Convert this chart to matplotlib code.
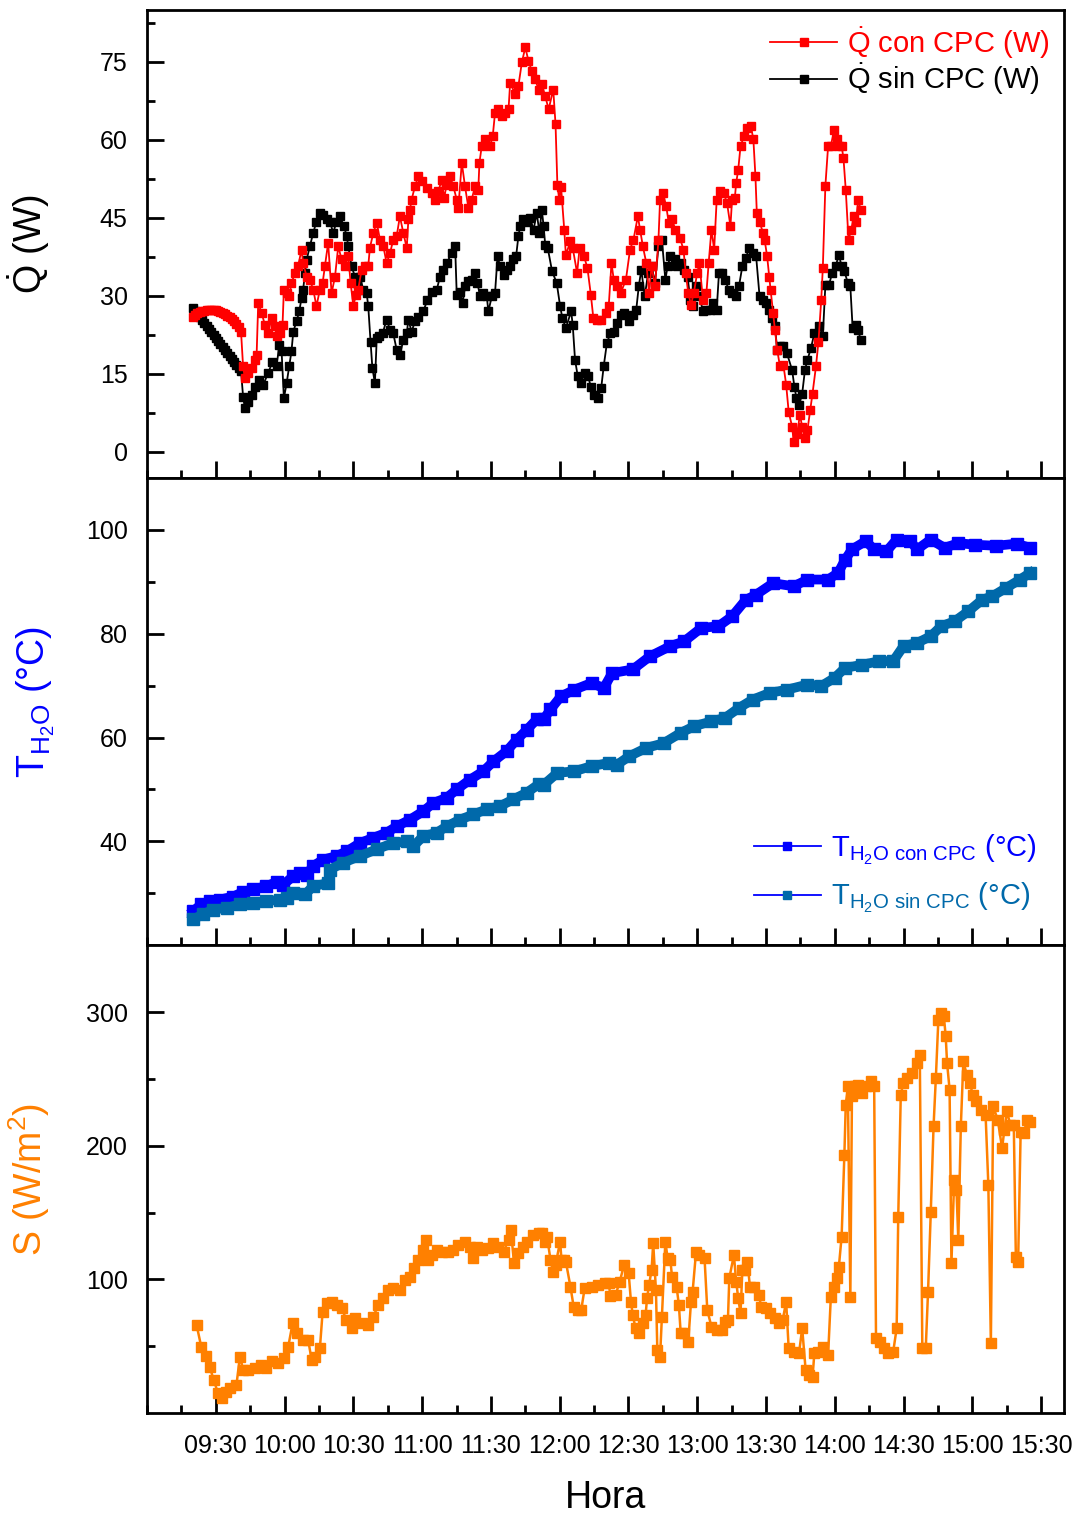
import numpy as np
import matplotlib.pyplot as plt
from matplotlib.lines import Line2D
from matplotlib.ticker import FixedLocator, MultipleLocator

plt.rcParams['font.family'] = ['Liberation Sans', 'DejaVu Sans']
plt.rcParams['mathtext.fontset'] = 'custom'
plt.rcParams['mathtext.rm'] = 'Liberation Sans'
plt.rcParams['mathtext.it'] = 'Liberation Sans:italic'
plt.rcParams['mathtext.bf'] = 'Liberation Sans:bold'

# tiempo en minutos despues de las 09:00
hora_pos = [30, 60, 90, 120, 150, 180, 210, 240, 270, 300, 330, 360, 390]
hora_lab = ['09:30', '10:00', '10:30', '11:00', '11:30', '12:00', '12:30',
            '13:00', '13:30', '14:00', '14:30', '15:00', '15:30']

# Q con CPC (W)
q_con = [(20, 26.0), (21, 26.4), (22, 26.7), (23, 26.9), (24, 27.0), (25, 27.1), (26, 27.2),
         (27, 27.3), (28, 27.3), (29, 27.3), (30, 27.2), (31, 27.0), (32, 26.9), (33, 26.7),
         (34, 26.5), (35, 26.2), (36, 25.9), (37, 25.5), (38, 25.1), (39, 24.6), (40, 24.0),
         (41, 23.1), (41.9, 16.4), (42.7, 14.1), (44.1, 15.1), (45.6, 16.1), (47.0, 17.7),
         (47.8, 18.6), (48.5, 28.6), (50.0, 26.7), (51.4, 24.4), (52.8, 22.8), (54.3, 25.7),
         (55.8, 24.1), (56.5, 22.2), (58.0, 22.8), (59.1, 24.4), (59.7, 31.2), (60.9, 30.5),
         (62.0, 29.9), (63.0, 32.4), (64.5, 34.4), (65.9, 35.7), (67.4, 38.9), (68.1, 36.3),
         (69.6, 33.7), (71.0, 33.1), (72.5, 31.2), (73.9, 28.0), (75.4, 31.2), (76.6, 32.5),
         (77.6, 35.7), (79.0, 40.2), (80.5, 30.5), (82.0, 33.7), (83.4, 39.5), (84.9, 37.0),
         (86.3, 35.7), (87.8, 37.6), (88.8, 32.5), (90.0, 28.0), (91.1, 30.2), (92.1, 31.2),
         (93.6, 35.0), (95.1, 35.7), (96.5, 35.7), (97.2, 39.2), (98.7, 42.1), (100.2, 44.1),
         (101.6, 40.8), (103.1, 39.5), (104.5, 36.3), (106.0, 38.2), (107.4, 40.8), (108.9, 41.5),
         (110.3, 45.3), (111.8, 42.1), (113.3, 39.2), (114.0, 44.7), (114.7, 46.6), (115.4, 48.5),
         (116.9, 51.1), (118.3, 53.0), (119.8, 52.0), (122.0, 50.8), (124.2, 49.8), (125.6, 48.5),
         (127.1, 50.1), (128.5, 52.3), (129.6, 48.8), (130.7, 51.4), (132.2, 53.0), (133.6, 51.1),
         (135.1, 48.5), (135.8, 46.9), (137.3, 55.6), (138.7, 51.1), (140.2, 46.9), (141.6, 48.5),
         (143.1, 51.1), (144.5, 50.4), (145.0, 55.6), (146.0, 58.8), (147.5, 60.1), (149.6, 58.8),
         (150.8, 60.7), (151.8, 65.2), (153.3, 65.9), (154.7, 64.6), (156.2, 65.2), (157.7, 65.9),
         (158.4, 71.0), (160.6, 68.8), (162.0, 70.4), (163.5, 74.9), (165.0, 77.8), (166.4, 75.2),
         (167.8, 73.3), (169.3, 71.7), (170.8, 69.7), (172.2, 70.7), (173.7, 68.4), (175.2, 65.9),
         (177.2, 69.7), (178.2, 63.0), (179.0, 51.4), (179.8, 48.5), (180.6, 51.0), (182.0, 42.7),
         (182.7, 37.9), (184.7, 40.5), (185.7, 39.2), (187.6, 34.4), (188.7, 39.2), (190.6, 37.6),
         (192.1, 35.4), (193.6, 30.2), (194.7, 25.7), (196.2, 25.4), (198.1, 25.4), (200.2, 26.7),
         (201.4, 28.0), (202.6, 36.3), (203.6, 33.1), (205.1, 31.8), (206.6, 30.5), (208.9, 33.1),
         (210.7, 38.9), (212.2, 40.8), (214.1, 45.3), (215.1, 42.7), (216.3, 39.5), (217.8, 36.3),
         (219.0, 30.5), (220.1, 35.7), (221.6, 31.8), (223.1, 40.8), (223.8, 48.5), (225.0, 49.8),
         (226.5, 47.2), (227.6, 44.0), (229.0, 44.7), (230.5, 42.7), (232.5, 41.1), (234.0, 38.9),
         (235.0, 34.4), (236.1, 30.5), (237.3, 28.3), (238.5, 30.5), (240.0, 34.4), (241.0, 36.3),
         (242.5, 29.2), (244.0, 30.5), (245.0, 36.3), (246.2, 42.7), (247.4, 38.9), (248.5, 48.5),
         (250.0, 50.1), (251.5, 49.8), (253.0, 47.9), (254.5, 43.4), (255.2, 48.5), (256.4, 48.8),
         (257.0, 51.7), (257.9, 54.3), (258.9, 58.8), (260.4, 60.7), (261.9, 62.3), (263.4, 62.7),
         (264.5, 60.1), (265.4, 53.0), (266.0, 46.0), (267.2, 44.3), (268.7, 42.1), (269.4, 40.8),
         (270.5, 37.6), (271.4, 33.7), (272.0, 31.2), (273.1, 26.7), (273.9, 23.5), (274.9, 19.6),
         (276.1, 16.4), (277.6, 16.7), (278.8, 12.9), (279.9, 7.7), (281.4, 4.8), (282.1, 1.9),
         (283.6, 3.5), (284.8, 7.1), (285.8, 4.8), (286.9, 2.6), (288.1, 4.2), (289.3, 8.0),
         (290.3, 11.2), (291.8, 16.4), (292.9, 21.2), (294.1, 29.2), (294.8, 35.4), (295.9, 51.1),
         (297.1, 58.8), (298.3, 58.8), (299.7, 62.0), (300.8, 60.1), (301.8, 58.8), (303.0, 58.8),
         (303.8, 56.5), (304.8, 50.4), (306.0, 40.8), (307.2, 42.7), (308.3, 45.3), (309.3, 44.3),
         (310.2, 48.5), (311.3, 46.6)]

# Q sin CPC (W)
q_sin = [(20, 27.6), (21, 27.0), (22, 26.5), (23, 25.9), (24, 25.3), (25, 24.7), (26, 24.2),
         (27, 23.6), (28, 23.0), (29, 22.4), (30, 21.8), (31, 21.3), (32, 20.7), (33, 20.1),
         (34, 19.5), (35, 19.0), (36, 18.4), (37, 17.8), (38, 17.2), (39, 16.6), (40, 16.1),
         (41, 15.5), (41.9, 10.6), (42.7, 8.4), (44.1, 9.6), (45.6, 10.9), (47.0, 12.5),
         (48.9, 13.8), (50.7, 12.9), (52.8, 15.1), (54.7, 17.3), (56.5, 16.4), (57.7, 20.6),
         (58.7, 19.3), (59.7, 10.3), (60.9, 13.2), (62.0, 16.4), (63.0, 19.3), (63.8, 23.1),
         (65.2, 25.1), (66.4, 27.0), (67.4, 29.6), (68.1, 31.2), (68.9, 34.4), (69.6, 36.9),
         (71.0, 39.5), (72.5, 42.1), (73.9, 44.3), (75.4, 45.9), (76.9, 45.6), (78.3, 44.7),
         (79.8, 44.3), (81.2, 42.1), (82.7, 44.3), (84.1, 45.3), (85.9, 43.4), (87.1, 41.5),
         (87.8, 39.5), (89.2, 35.7), (90.7, 33.7), (91.7, 32.5), (92.9, 33.7), (94.3, 31.2),
         (95.8, 30.5), (96.5, 28.0), (97.5, 21.2), (98.3, 16.1), (99.4, 13.2), (100.2, 21.8),
         (101.3, 22.2), (102.8, 22.8), (104.5, 25.4), (106.0, 23.5), (107.4, 22.8), (108.9, 19.6),
         (110.3, 18.6), (111.8, 21.5), (113.3, 22.8), (114.0, 25.4), (115.4, 23.1), (116.9, 25.1),
         (118.3, 26.0), (120.5, 27.0), (122.3, 29.2), (124.2, 30.8), (126.4, 31.2), (127.8, 33.7),
         (129.3, 35.0), (130.7, 36.3), (132.9, 38.2), (134.4, 39.5), (135.1, 30.2), (136.5, 30.8),
         (137.7, 28.6), (138.7, 31.8), (140.2, 32.8), (141.6, 33.1), (143.1, 34.4), (144.1, 32.5),
         (145.3, 29.9), (146.7, 30.5), (148.2, 29.9), (148.9, 27.0), (150.4, 29.9), (151.8, 30.5),
         (152.9, 37.6), (154.0, 35.7), (155.5, 34.1), (156.9, 35.0), (158.4, 35.7), (159.8, 37.0),
         (161.0, 37.6), (162.0, 41.5), (162.8, 43.4), (164.2, 44.7), (165.7, 44.3), (167.1, 45.0),
         (168.6, 42.7), (170.0, 45.9), (171.2, 42.1), (172.2, 46.6), (173.0, 43.4), (173.7, 39.8),
         (174.8, 39.2), (176.7, 34.7), (178.7, 32.5), (180.2, 28.0), (181.2, 25.7), (182.7, 23.8),
         (185.0, 27.0), (185.7, 24.4), (186.7, 17.7), (187.9, 14.5), (189.1, 13.2), (190.9, 15.1),
         (192.4, 14.5), (193.6, 12.5), (195.1, 10.9), (196.6, 10.3), (198.1, 12.2), (199.2, 16.4),
         (200.6, 20.9), (202.1, 22.8), (203.6, 23.1), (205.1, 24.7), (206.6, 26.3), (208.1, 26.7),
         (210.1, 25.1), (211.9, 26.3), (213.4, 27.3), (214.5, 31.8), (215.6, 35.0), (217.1, 29.9),
         (218.6, 34.4), (220.1, 35.7), (221.6, 32.5), (223.1, 39.5), (224.6, 40.8), (226.1, 33.1),
         (227.1, 35.7), (228.3, 37.6), (230.1, 37.0), (231.3, 35.7), (232.8, 36.3), (234.3, 35.0),
         (235.8, 33.7), (237.0, 29.2), (238.0, 28.0), (239.5, 31.8), (241.0, 29.9), (242.5, 27.0),
         (244.0, 27.3), (245.5, 27.3), (247.0, 28.6), (248.5, 27.3), (249.5, 34.4), (250.7, 34.4),
         (252.2, 33.1), (253.7, 31.2), (255.2, 30.5), (257.0, 29.9), (258.2, 31.8), (259.7, 35.7),
         (261.2, 37.3), (262.7, 39.2), (264.2, 38.2), (265.7, 37.6), (267.2, 29.9), (268.7, 29.2),
         (270.2, 28.6), (271.4, 27.3), (272.8, 25.7), (273.9, 24.1), (274.9, 19.6), (276.1, 20.3),
         (277.6, 20.3), (279.1, 19.0), (281.4, 15.7), (282.4, 12.5), (283.3, 10.3), (284.4, 9.0),
         (285.8, 11.2), (287.0, 15.7), (288.1, 17.7), (289.6, 19.9), (291.1, 22.8), (293.3, 24.1),
         (294.8, 22.2), (295.9, 32.0), (297.4, 32.0), (298.9, 34.4), (300.4, 35.7), (301.8, 37.9),
         (303.0, 35.7), (304.2, 34.7), (305.7, 32.5), (306.8, 31.8), (307.8, 23.8), (309.3, 24.4),
         (310.2, 23.5), (311.3, 21.5)]

# T H2O con CPC (C)
t_con = [(20.1, 26.6), (23.7, 27.9), (27.4, 28.5), (31.7, 28.8), (37.6, 29.4), (41.9, 30.3),
         (46.3, 30.8), (52.1, 31.4), (56.5, 32.2), (59.4, 31.7), (63.8, 33.3), (66.7, 34.0),
         (69.6, 33.6), (72.5, 35.3), (76.9, 36.5), (82.7, 37.2), (87.1, 38.1), (92.9, 39.7),
         (98.7, 40.7), (104.5, 41.7), (108.9, 42.9), (114.7, 44.2), (120.5, 45.8), (124.9, 47.4),
         (130.7, 48.4), (135.1, 50.0), (140.9, 51.9), (146.7, 53.5), (151.1, 55.4), (156.9, 57.4),
         (161.3, 59.6), (165.7, 61.5), (170.0, 63.5), (173.0, 63.5), (176.0, 65.4), (180.5, 67.9),
         (186.4, 69.2), (193.9, 70.5), (199.2, 69.5), (202.9, 72.4), (211.9, 73.1), (219.3, 75.6),
         (228.3, 77.6), (234.3, 78.5), (241.8, 81.1), (249.2, 81.4), (255.2, 83.3), (261.2, 86.5),
         (265.7, 87.5), (273.1, 89.7), (282.1, 89.1), (288.1, 90.4), (297.1, 90.4), (301.5, 91.7),
         (304.5, 94.2), (307.5, 96.2), (313.5, 97.8), (317.2, 96.2), (322.5, 95.8), (327.0, 98.1),
         (333.0, 97.8), (335.9, 96.2), (341.9, 98.1), (347.9, 96.5), (353.9, 97.4), (361.3, 97.1),
         (370.3, 96.9), (379.3, 97.3), (385.3, 96.5)]

# T H2O sin CPC (C)
t_sin = [(20.1, 25.0), (24.5, 26.0), (28.8, 26.9), (34.7, 27.2), (40.5, 27.9), (46.3, 28.2),
         (52.1, 28.5), (58.0, 28.8), (60.9, 29.2), (63.8, 30.1), (68.9, 29.8), (72.5, 31.4),
         (79.0, 32.0), (79.8, 34.6), (85.6, 35.9), (92.9, 37.2), (100.2, 38.5), (107.4, 39.7),
         (113.3, 40.0), (116.2, 39.1), (120.5, 41.0), (126.4, 41.7), (130.7, 42.9), (136.5, 44.2),
         (142.4, 45.2), (148.2, 46.2), (154.0, 46.8), (159.8, 48.1), (165.7, 49.4), (170.8, 51.0),
         (173.0, 50.9), (179.0, 53.2), (186.4, 53.5), (193.9, 54.5), (201.4, 55.1), (205.1, 54.8),
         (210.4, 56.4), (217.8, 58.0), (225.3, 58.9), (232.8, 60.9), (238.8, 62.2), (246.2, 63.1),
         (252.2, 63.8), (258.2, 65.7), (264.2, 67.3), (271.7, 68.6), (279.1, 69.2), (288.1, 70.2),
         (294.1, 69.9), (300.0, 71.5), (304.5, 73.4), (312.0, 74.0), (319.5, 74.7), (325.5, 74.7),
         (330.0, 77.6), (335.9, 78.2), (341.9, 79.5), (346.4, 81.4), (352.4, 82.4), (358.3, 84.3),
         (364.3, 86.5), (368.8, 87.2), (374.8, 88.8), (380.8, 90.4), (385.3, 91.7)]

# S (W/m2)
s_rad = [(21.6, 66.0), (23.7, 49.2), (25.6, 42.7), (27.4, 34.2), (29.1, 24.7), (31.0, 14.7),
         (32.5, 11.0), (34.4, 16.0), (36.4, 18.5), (39.0, 21.0), (40.5, 42.2), (42.0, 32.2),
         (44.1, 32.2), (47.0, 33.5), (49.9, 36.0), (52.1, 33.5), (54.3, 39.2), (57.2, 37.7),
         (59.7, 40.9), (61.6, 49.7), (63.5, 67.2), (65.2, 59.7), (68.1, 54.7), (70.3, 54.7),
         (71.8, 39.7), (73.2, 42.2), (75.4, 48.4), (76.6, 75.9), (78.3, 82.1), (80.5, 83.4),
         (82.7, 80.9), (84.9, 78.4), (87.0, 69.7), (89.2, 63.4), (90.7, 70.9), (93.6, 67.2),
         (96.5, 65.9), (98.7, 72.2), (100.9, 80.9), (103.1, 85.9), (105.3, 92.1), (107.4, 93.4),
         (110.3, 92.1), (112.5, 99.6), (114.7, 102.1), (116.5, 108.4), (118.3, 114.6),
         (120.2, 122.1), (121.7, 129.6), (122.7, 114.6), (124.2, 118.3), (126.4, 122.1),
         (128.5, 120.8), (131.4, 120.8), (133.6, 122.1), (135.8, 125.8), (138.7, 128.3),
         (140.9, 124.6), (142.1, 115.9), (143.8, 124.6), (146.0, 122.1), (148.9, 123.3),
         (151.1, 127.1), (153.3, 124.6), (155.5, 120.8), (157.7, 129.6), (158.7, 137.1),
         (160.1, 112.1), (162.0, 119.6), (164.2, 124.6), (165.9, 128.3), (168.3, 133.3),
         (170.8, 134.6), (172.2, 134.6), (173.7, 128.3), (174.5, 132.1), (176.0, 114.6),
         (177.2, 105.9), (178.2, 110.9), (180.2, 128.3), (180.8, 114.6), (182.0, 114.6),
         (182.7, 113.3), (184.7, 94.6), (186.1, 79.6), (187.9, 77.1), (189.4, 77.1), (190.9, 93.4),
         (193.9, 94.6), (196.9, 95.9), (199.9, 97.1), (201.4, 97.6), (202.1, 87.6), (204.4, 88.4),
         (206.2, 98.4), (208.1, 110.9), (210.1, 104.6), (211.1, 83.4), (211.9, 73.4), (213.1, 63.4),
         (214.5, 59.7), (216.3, 67.2), (217.5, 73.4), (218.1, 85.9), (219.0, 95.9), (220.1, 107.1),
         (220.8, 127.1), (222.0, 92.1), (222.6, 47.2), (223.8, 42.2), (224.6, 72.2), (226.1, 128.3),
         (227.1, 115.9), (228.3, 114.6), (229.0, 102.1), (231.0, 94.6), (232.0, 81.0), (232.8, 59.7),
         (234.3, 59.7), (236.1, 53.4), (237.3, 83.4), (238.0, 90.9), (239.5, 120.8), (241.0, 118.3),
         (243.2, 115.9), (244.4, 77.1), (246.2, 64.7), (248.5, 62.2), (250.7, 62.2), (252.2, 68.4),
         (253.4, 69.7), (254.0, 100.9), (256.0, 118.3), (257.0, 98.4), (257.9, 85.9), (258.9, 74.6),
         (259.7, 107.1), (260.9, 107.1), (261.9, 113.3), (263.0, 94.6), (264.9, 94.6), (266.9, 88.4),
         (267.9, 79.6), (270.2, 78.4), (271.9, 74.6), (273.9, 70.9), (275.8, 67.2), (277.3, 69.7),
         (278.8, 83.4), (279.9, 48.4), (282.1, 45.9), (284.4, 44.7), (285.8, 63.4), (287.3, 32.2),
         (288.8, 28.5), (290.3, 26.7), (291.1, 44.7), (292.9, 45.9), (294.8, 49.7), (297.1, 43.4),
         (298.3, 87.1), (299.7, 94.6), (300.8, 100.9), (301.8, 109.6), (303.0, 132.1),
         (304.2, 193.3), (304.8, 230.7), (305.7, 244.4), (306.8, 87.1), (307.5, 237.0),
         (308.7, 244.4), (310.2, 245.7), (312.0, 239.4), (313.8, 244.4), (315.7, 248.2),
         (317.2, 244.4), (318.0, 55.9), (319.8, 53.4), (321.7, 48.4), (323.2, 44.7), (325.5, 45.9),
         (327.0, 63.4), (327.7, 147.1), (328.8, 238.2), (329.9, 246.9), (331.4, 250.7),
         (333.7, 254.4), (335.9, 261.9), (337.1, 268.2), (338.2, 48.4), (339.7, 48.4), (340.7, 90.9),
         (341.9, 150.8), (343.1, 214.5), (344.1, 250.7), (345.2, 294.4), (346.4, 299.4),
         (347.6, 296.9), (348.4, 282.0), (349.0, 262.0), (350.1, 242.0), (350.9, 112.1),
         (352.1, 174.5), (353.1, 167.0), (353.9, 129.6), (355.0, 214.5), (356.1, 263.2),
         (357.6, 253.2), (359.1, 246.9), (360.1, 238.2), (361.6, 233.2), (363.6, 227.0),
         (365.8, 223.2), (367.0, 170.8), (368.1, 52.2), (369.1, 229.5), (371.1, 219.5),
         (373.0, 198.3), (374.0, 212.0), (375.1, 225.7), (376.6, 215.7), (378.1, 215.7),
         (379.0, 117.1), (380.0, 113.3), (381.1, 210.7), (382.6, 209.5), (383.8, 219.5),
         (385.3, 217.5)]

rojo = '#FF0000'
azul = '#0000FF'
azul2 = '#0069AA'
naranja = '#FF8000'

fig, (ax1, ax2, ax3) = plt.subplots(3, 1, sharex=True, figsize=(10.78, 15.16), dpi=100)
fig.subplots_adjust(left=0.1364, right=0.987, top=0.9934, bottom=0.0679, hspace=0)

# panel 1: Q
x, y = zip(*q_sin)
ax1.plot(x, y, '-s', color='black', lw=1.3, ms=6)
x, y = zip(*q_con)
ax1.plot(x, y, '-s', color=rojo, lw=1.3, ms=6)
ax1.set_ylim(-5, 85)
ax1.yaxis.set_major_locator(FixedLocator([0, 15, 30, 45, 60, 75]))
ax1.yaxis.set_minor_locator(FixedLocator([7.5, 22.5, 37.5, 52.5, 67.5, 82.5]))
ax1.set_ylabel(r'$\dot{\mathrm{Q}}$ (W)', fontsize=27)
ax1.yaxis.set_label_coords(-0.104, 0.5)
h1 = [Line2D([], [], color=rojo, marker='s', lw=1.3, ms=6),
      Line2D([], [], color='black', marker='s', lw=1.3, ms=6)]
ax1.legend(h1, [r'$\dot{\mathrm{Q}}$ con CPC (W)', r'$\dot{\mathrm{Q}}$ sin CPC (W)'],
           loc='upper right', bbox_to_anchor=(0.9847, 0.968), frameon=False, fontsize=21,
           handlelength=2.3, handletextpad=0.35, labelspacing=0.02, borderpad=0,
           borderaxespad=0, labelcolor='linecolor')

# panel 2: T
x, y = zip(*t_con)
ax2.plot(x, y, '-s', color=azul, lw=7, ms=8)
x, y = zip(*t_sin)
ax2.plot(x, y, '-s', color=azul2, lw=7, ms=8)
ax2.set_ylim(20, 110)
ax2.yaxis.set_major_locator(FixedLocator([40, 60, 80, 100]))
ax2.yaxis.set_minor_locator(FixedLocator([30, 50, 70, 90]))
ax2.set_ylabel(r'$\mathrm{T_{H_2O}}$ (°C)', fontsize=27, color=azul)
ax2.yaxis.set_label_coords(-0.098, 0.52)
h2 = [Line2D([], [], color=azul, marker='s', mfc=azul, mec=azul, lw=1.3, ms=6),
      Line2D([], [], color=azul, marker='s', mfc=azul2, mec=azul2, lw=1.3, ms=6)]
ax2.legend(h2, [r'$\mathrm{T_{H_2O\ con\ CPC}}$ (°C)', r'$\mathrm{T_{H_2O\ sin\ CPC}}$ (°C)'],
           loc='lower right', bbox_to_anchor=(0.9706, 0.064), frameon=False, fontsize=21,
           handlelength=2.3, handletextpad=0.35, labelspacing=0.5, borderpad=0,
           borderaxespad=0, labelcolor='markerfacecolor')

# panel 3: S
x, y = zip(*s_rad)
ax3.plot(x, y, '-s', color=naranja, lw=1.8, ms=6.5)
ax3.set_ylim(0, 350)
ax3.yaxis.set_major_locator(FixedLocator([100, 200, 300]))
ax3.yaxis.set_minor_locator(FixedLocator([50, 150, 250]))
ax3.set_ylabel(r'S (W/m$^2$)', fontsize=27, color=naranja)
ax3.yaxis.set_label_coords(-0.104, 0.5)

ax3.set_xlim(0, 400)
ax3.xaxis.set_major_locator(FixedLocator(hora_pos))
ax3.xaxis.set_minor_locator(MultipleLocator(15))
ax3.set_xticklabels(hora_lab)
ax3.set_xlabel('Hora', fontsize=27, labelpad=16)

for ax in (ax1, ax2, ax3):
    ax.tick_params(which='both', direction='in', width=2, top=False, right=False, labelsize=18)
    ax.tick_params(which='major', length=12)
    ax.tick_params(which='minor', length=6)
    ax.tick_params(axis='y', pad=14)
    ax.tick_params(axis='x', pad=15)
    for sp in ax.spines.values():
        sp.set_linewidth(2)

fig.savefig('out.png', dpi=100)
